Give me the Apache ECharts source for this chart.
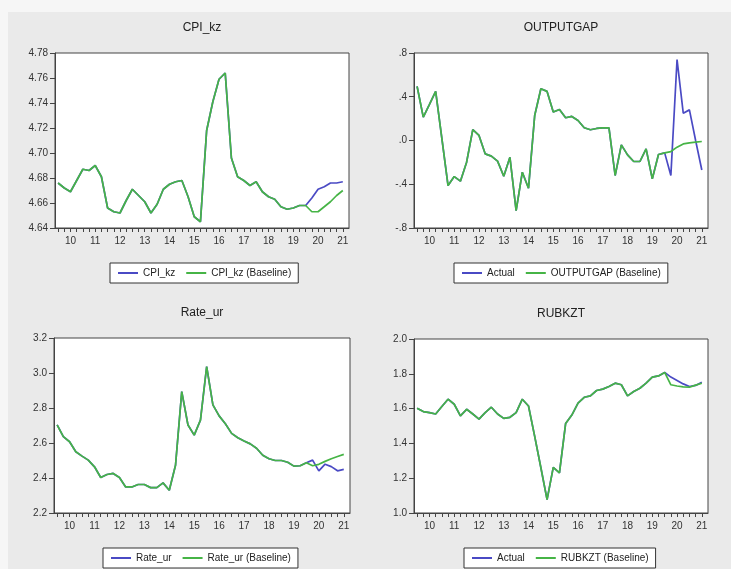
<!DOCTYPE html>
<html>
<head>
<meta charset="utf-8">
<title>Forecast vs Baseline</title>
<script src="https://cdn.jsdelivr.net/npm/echarts@6/dist/echarts.min.js"></script>
<style>
  html, body { margin: 0; padding: 0; background: #f6f6f6; }
  #chart { width: 731px; height: 569px; }
</style>
</head>
<body>
<div id="chart"></div>
<script>
// quarterly obs, year labels sit on the Q1 of each year
const yearLabels = ['10', '11', '12', '13', '14', '15', '16', '17', '18', '19', '20', '21']
const yearTickIdx = [2, 6, 10, 14, 18, 22, 26, 30, 34, 38, 42, 46]
const forecastStart = 40

const cpiBase = [4.676, 4.672, 4.669, 4.678, 4.687, 4.686, 4.690, 4.681, 4.656, 4.653,
  4.652, 4.662, 4.671, 4.666, 4.661, 4.652, 4.659, 4.671, 4.675, 4.677,
  4.678, 4.665, 4.649, 4.645, 4.718, 4.741, 4.759, 4.764, 4.696, 4.681,
  4.678, 4.674, 4.677, 4.669, 4.665, 4.663, 4.657, 4.655, 4.656, 4.658,
  4.658, 4.653, 4.653, 4.657, 4.661, 4.666, 4.670]
const cpiActualTail = [4.658, 4.664, 4.671, 4.673, 4.676, 4.676, 4.677]

const gapBase = [0.495, 0.214, 0.33, 0.449, 0.02, -0.412, -0.33, -0.372, -0.198, 0.10,
  0.046, -0.122, -0.143, -0.189, -0.327, -0.153, -0.641, -0.29, -0.437, 0.229,
  0.473, 0.449, 0.26, 0.284, 0.208, 0.22, 0.183, 0.116, 0.098, 0.11,
  0.116, 0.116, -0.32, -0.04, -0.131, -0.192, -0.192, -0.076, -0.351, -0.128,
  -0.113, -0.101, -0.061, -0.031, -0.021, -0.015, -0.009]
const gapActualTail = [-0.113, -0.32, 0.74, 0.25, 0.28, 0.0, -0.27]

const rateBase = [2.703, 2.636, 2.607, 2.55, 2.525, 2.502, 2.464, 2.403, 2.42, 2.426,
  2.403, 2.349, 2.349, 2.363, 2.363, 2.345, 2.345, 2.372, 2.33, 2.473,
  2.894, 2.703, 2.645, 2.731, 3.037, 2.818, 2.755, 2.71, 2.655, 2.63,
  2.612, 2.595, 2.57, 2.53, 2.51, 2.50, 2.50, 2.49, 2.468, 2.47,
  2.487, 2.47, 2.478, 2.495, 2.51, 2.523, 2.535]
const rateActualTail = [2.487, 2.502, 2.441, 2.479, 2.465, 2.441, 2.449]

const rubBase = [1.602, 1.583, 1.577, 1.569, 1.612, 1.654, 1.625, 1.558, 1.596, 1.569,
  1.54, 1.577, 1.608, 1.569, 1.544, 1.55, 1.577, 1.654, 1.615, 1.44,
  1.26, 1.077, 1.262, 1.231, 1.515, 1.563, 1.631, 1.665, 1.673, 1.704,
  1.712, 1.727, 1.746, 1.737, 1.673, 1.698, 1.717, 1.746, 1.781, 1.788,
  1.808, 1.737, 1.73, 1.725, 1.723, 1.735, 1.746]
const rubActualTail = [1.808, 1.781, 1.762, 1.742, 1.727, 1.733, 1.752]

const BLUE = '#4a4ac4'
const GREEN = '#46b446'
const FRAME = '#444'
const FONT = "'Liberation Sans', Arial, sans-serif"

const fmt2 = v => v.toFixed(2)
const fmt1 = v => v.toFixed(1)
const fmtGap = v => (v < -1e-9 ? '-' : '') + Math.abs(v).toFixed(1).replace(/^0/, '')

const panels = [
  { title: 'CPI_kz', grid: { left: 55, top: 53, width: 294, height: 175 }, legend: { left: 110, top: 263 },
    min: 4.64, max: 4.78, step: 0.02, fmt: fmt2, base: cpiBase, tail: cpiActualTail,
    actualName: 'CPI_kz', baseName: 'CPI_kz (Baseline)' },
  { title: 'OUTPUTGAP', grid: { left: 414, top: 53, width: 294, height: 175 }, legend: { left: 454, top: 263 },
    min: -0.8, max: 0.8, step: 0.4, fmt: fmtGap, base: gapBase, tail: gapActualTail,
    actualName: 'Actual', baseName: 'OUTPUTGAP (Baseline)' },
  { title: 'Rate_ur', grid: { left: 54, top: 338, width: 296, height: 175 }, legend: { left: 103, top: 548 },
    min: 2.2, max: 3.2, step: 0.2, fmt: fmt1, base: rateBase, tail: rateActualTail,
    actualName: 'Rate_ur', baseName: 'Rate_ur (Baseline)' },
  { title: 'RUBKZT', grid: { left: 414, top: 339, width: 294, height: 174 }, legend: { left: 464, top: 548 },
    min: 1.0, max: 2.0, step: 0.2, fmt: fmt1, base: rubBase, tail: rubActualTail,
    actualName: 'Actual', baseName: 'RUBKZT (Baseline)' }
]

const allIdx = cpiBase.map((v, i) => i)

const option = {
  backgroundColor: '#eaeaea',
  animation: false,
  textStyle: { fontFamily: FONT },
  graphic: [
    { type: 'rect', shape: { x: 0, y: 0, width: 731, height: 12 }, style: { fill: '#f6f6f6' }, silent: true },
    { type: 'rect', shape: { x: 0, y: 0, width: 8, height: 569 }, style: { fill: '#f6f6f6' }, silent: true }
  ],
  grid: [],
  xAxis: [],
  yAxis: [],
  legend: [],
  series: []
}

panels.forEach((p, k) => {
  option.graphic.push({
    type: 'text',
    x: p.grid.left + p.grid.width / 2,
    y: p.grid.top - 25,
    style: { text: p.title, fill: '#222', font: '12px ' + FONT, textAlign: 'center', textVerticalAlign: 'middle' }
  })
  option.grid.push(Object.assign({ show: true, backgroundColor: '#fff', borderColor: FRAME, borderWidth: 1 }, p.grid))
  option.xAxis.push({
    type: 'value', gridIndex: k, min: -0.5, max: 47,
    axisLine: { onZero: false, lineStyle: { color: FRAME } },
    axisTick: { customValues: allIdx, length: 4, lineStyle: { color: FRAME } },
    axisLabel: {
      customValues: yearTickIdx, margin: 8, fontSize: 10, color: '#333', fontFamily: FONT,
      formatter: v => yearLabels[yearTickIdx.indexOf(Math.round(v))] || ''
    },
    splitLine: { show: false }
  })
  option.yAxis.push({
    type: 'value', gridIndex: k, min: p.min, max: p.max, interval: p.step,
    axisLine: { show: true, onZero: false, lineStyle: { color: FRAME } },
    axisTick: { show: true, length: 5, lineStyle: { color: FRAME } },
    axisLabel: { margin: 7, fontSize: 10, color: '#333', fontFamily: FONT, formatter: p.fmt },
    splitLine: { show: false }
  })
  option.legend.push(Object.assign({
    data: [p.actualName, p.baseName],
    orient: 'horizontal',
    backgroundColor: '#fff', borderColor: '#333', borderWidth: 1, borderRadius: 0,
    padding: [5, 7], itemWidth: 20, itemHeight: 12, itemGap: 10,
    itemStyle: { opacity: 0 },
    textStyle: { fontSize: 10, color: '#222', fontFamily: FONT }
  }, p.legend))

  const actual = p.base.slice(0, forecastStart).concat(p.tail)
  option.series.push({
    name: p.actualName, type: 'line', xAxisIndex: k, yAxisIndex: k,
    symbol: 'none', color: BLUE, lineStyle: { width: 1.7, color: BLUE },
    data: actual.map((v, i) => [i, v])
  })
  option.series.push({
    name: p.baseName, type: 'line', xAxisIndex: k, yAxisIndex: k,
    symbol: 'none', color: GREEN, lineStyle: { width: 1.7, color: GREEN },
    data: p.base.map((v, i) => [i, v])
  })
})

const chart = echarts.init(document.getElementById('chart'))
chart.setOption(option)
</script>
</body>
</html>
